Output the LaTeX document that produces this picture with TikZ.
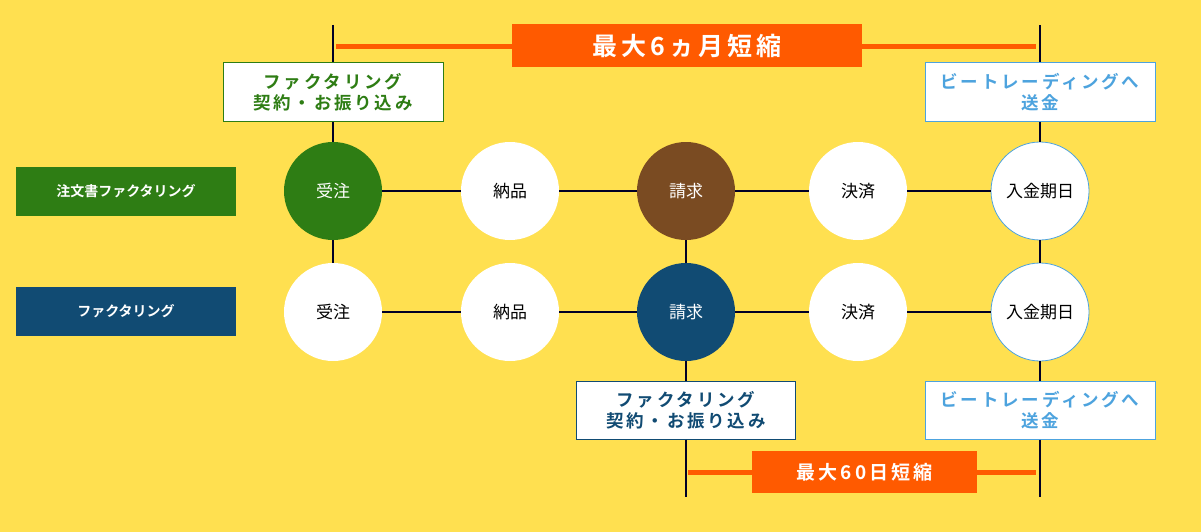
\documentclass[tikz,border=0pt]{standalone}
\usepackage{fontspec}
\setmainfont{Noto Sans CJK JP}
\newfontfamily\jpb{Noto Sans CJK JP Bold}
\newfontfamily\jpbs[LetterSpace=16]{Noto Sans CJK JP Bold}
\begin{document}
\begin{tikzpicture}[x=1pt,y=-1pt,
  line/.style={draw=black!85!blue,line width=1.6pt},
  circ/.style={circle,minimum size=98pt,inner sep=0pt,font=\fontsize{17}{19}\selectfont,fill=white},
  lbl/.style={minimum width=220pt,minimum height=49pt,inner sep=0pt,text=white,font=\jpb\fontsize{14}{16}\selectfont},
  info/.style={draw,fill=white,line width=1pt,inner sep=0pt,align=center,font=\jpbs\fontsize{17.5}{21}\selectfont},
  obar/.style={draw=orangec,line width=5pt},
  olbl/.style={fill=orangec,text=white,inner sep=0pt,font=\jpbs\fontsize{25}{27}\selectfont}]
\definecolor{bg}{HTML}{FFE050}
\definecolor{gr}{HTML}{2E7D14}
\definecolor{br}{HTML}{7A4B22}
\definecolor{nv}{HTML}{114B73}
\definecolor{orangec}{HTML}{FF5A00}
\definecolor{lb}{HTML}{4DA3DE}
\fill[bg] (0,0) rectangle (1201,532);
\useasboundingbox (0,0) rectangle (1201,532);
% circles
\node[circ,fill=gr,text=white] (a1) at (333,191) {受注};
\node[circ] (b1) at (510,191) {納品};
\node[circ,fill=br,text=white] (c1) at (686,191) {請求};
\node[circ] (d1) at (858,191) {決済};
\node[circ,draw=lb,line width=0.8pt] (e1) at (1040,191) {入金期日};
\node[circ] (a2) at (333,312) {受注};
\node[circ] (b2) at (510,312) {納品};
\node[circ,fill=nv,text=white] (c2) at (686,312) {請求};
\node[circ] (d2) at (858,312) {決済};
\node[circ,draw=lb,line width=0.8pt] (e2) at (1040,312) {入金期日};
% info boxes
\node[info,draw=gr,text=gr,minimum width=220pt,minimum height=59pt] (g1) at (333,92.5) {ファクタリング\\契約・お振り込み};
\node[info,draw=lb,text=lb,minimum width=230pt,minimum height=59pt] (s1) at (1040,92.5) {ビートレーディングへ\\送金};
\node[info,draw=nv,text=nv,minimum width=219pt,minimum height=58pt] (g2) at (686,410) {ファクタリング\\契約・お振り込み};
\node[info,draw=lb,text=lb,minimum width=230pt,minimum height=58pt] (s2) at (1040,410) {ビートレーディングへ\\送金};
\coordinate (t1) at (333,25);
\coordinate (t2) at (1040,25);
\coordinate (u1) at (686,497);
\coordinate (u2) at (1040,497);
% lines
\draw[line] (t1) -- (g1.north) (g1.south) -- (a1.north) (a1.south) -- (a2.north);
\draw[line] (t2) -- (s1.north) (s1.south) -- (e1.north) (e1.south) -- (e2.north) (e2.south) -- (s2.north) (s2.south) -- (u2);
\draw[line] (c1.south) -- (c2.north) (c2.south) -- (g2.north) (g2.south) -- (u1);
\foreach \r in {1,2}{
  \draw[line] (a\r.east) -- (b\r.west) (b\r.east) -- (c\r.west) (c\r.east) -- (d\r.west) (d\r.east) -- (e\r.west);
}
% bars
\coordinate (p1) at (336,47); \coordinate (p2) at (1036,47);
\draw[obar] (p1) -- (p2);
\node[olbl,minimum width=350pt,minimum height=43pt] (m1) at (687,45.5) {最大6ヵ月短縮};
\coordinate (q1) at (688,472); \coordinate (q2) at (1036,472);
\draw[obar] (q1) -- (q2);
\node[olbl,minimum width=225pt,minimum height=42pt,font=\jpbs\fontsize{19}{21}\selectfont] (m2) at (864.5,472) {最大60日短縮};
% left labels
\node[lbl,fill=gr] (L1) at (126,191.5) {注文書ファクタリング};
\node[lbl,fill=nv] (L2) at (126,311.5) {ファクタリング};
\end{tikzpicture}
\end{document}
